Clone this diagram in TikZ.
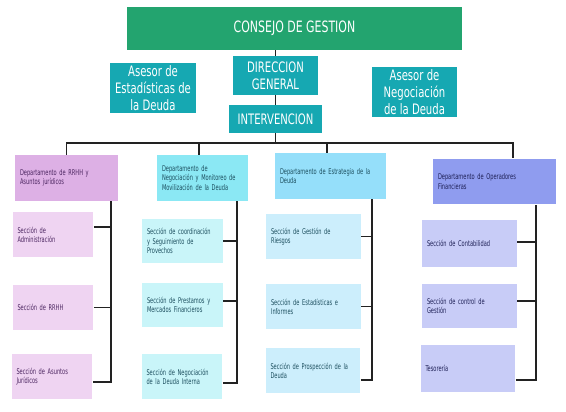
\documentclass[tikz,border=0pt]{standalone}
\usepackage{fontspec}
\setmainfont{DejaVu Sans}[FakeStretch=0.7]
\newfontfamily\estrecha{DejaVu Sans}[FakeStretch=0.64]
\usetikzlibrary{calc,positioning}
\hyphenpenalty=10000
\exhyphenpenalty=10000
\definecolor{verde}{HTML}{23A46F}
\definecolor{turquesa}{HTML}{16A8B2}
\definecolor{lila}{HTML}{DDB0E5}
\definecolor{lilaclaro}{HTML}{EFD4F2}
\definecolor{morado}{HTML}{4B2560}
\definecolor{celeste}{HTML}{8BE8F4}
\definecolor{celesteclaro}{HTML}{C9F5F9}
\definecolor{azulcielo}{HTML}{95DFFA}
\definecolor{azulcieloclaro}{HTML}{CCEEFC}
\definecolor{petroleo}{HTML}{1C4E5E}
\definecolor{lavanda}{HTML}{8F9CEF}
\definecolor{lavandaclaro}{HTML}{C8CCF7}
\definecolor{marino}{HTML}{1D1F55}
\definecolor{gris}{HTML}{222222}
\tikzset{
  titulo/.style={fill=verde, text=white, minimum width=6.7cm, minimum height=0.86cm, inner sep=0pt, font=\fontsize{8.9}{10}\selectfont},
  asesor/.style={fill=turquesa, text=white, align=center, inner sep=0pt, font=\fontsize{8.2}{9.6}\selectfont},
  depto/.style={minimum height=0.92cm, inner xsep=0.1cm, inner ysep=0pt, align=left, font=\estrecha\fontsize{4.5}{5.2}\selectfont},
  seccion/.style={minimum height=0.9cm, inner xsep=0.1cm, inner ysep=0pt, align=left, font=\estrecha\fontsize{4.5}{5.2}\selectfont},
  linea/.style={line width=1.1pt, draw=gris}
}
\begin{document}
\begin{tikzpicture}[x=0.02cm, y=-0.02cm]
  \useasboundingbox (0,0) rectangle (566,412);
  % cabecera
  \node[titulo] (consejo) at (294.5,28.5) {CONSEJO DE GESTION};
  \node[asesor, minimum width=1.72cm, minimum height=1cm] (aest) at (153,88) {Asesor de\\Estadísticas de\\la Deuda};
  \node[asesor, minimum width=1.7cm, minimum height=0.78cm] (dir) at (275.5,75.5) {DIRECCION\\GENERAL};
  \node[asesor, minimum width=1.86cm, minimum height=0.56cm] (inter) at (275.5,119) {INTERVENCION};
  \node[asesor, minimum width=1.7cm, minimum height=1cm] (aneg) at (414.5,92) {Asesor de\\Negociación\\de la Deuda};
  \coordinate (bar) at (275.5,143);

  % departamentos
  \node[depto, fill=lila, text=morado, text width=1.86cm] (d1) at (66.5,178) {Departamento de RRHH y\\Asuntos jurídicos};
  \node[depto, fill=celeste, text=petroleo, text width=1.62cm] (d2) at (202.5,178) {Departamento de\\Negociación y Monitoreo de\\Movilización de la Deuda};
  \node[depto, fill=azulcielo, text=petroleo, text width=2.02cm] (d3) at (330.5,176) {Departamento de Estrategia de la\\Deuda};
  \node[depto, fill=lavanda, text=marino, text width=2.26cm] (d4) at (494.5,181.5) {Departamento de Operadores\\Financieras};

  % secciones
  \node[seccion, fill=lilaclaro, text=morado, text width=1.42cm] (s11) at (53,234.5) {Sección de\\Administración};
  \node[seccion, fill=lilaclaro, text=morado, text width=1.42cm] (s12) at (53,307.5) {Sección de RRHH};
  \node[seccion, fill=lilaclaro, text=morado, text width=1.42cm] (s13) at (52,376.5) {Sección de Asuntos\\Jurídicos};
  \node[seccion, fill=celesteclaro, text=petroleo, text width=1.42cm] (s21) at (182.5,241) {Sección de coordinación\\y Seguimiento de\\Provechos};
  \node[seccion, fill=celesteclaro, text=petroleo, text width=1.42cm] (s22) at (182.5,305) {Sección de Prestamos y\\Mercados Financieros};
  \node[seccion, fill=celesteclaro, text=petroleo, text width=1.42cm] (s23) at (182,376.5) {Sección de Negociación\\de la Deuda Interna};
  \node[seccion, fill=azulcieloclaro, text=petroleo, text width=1.7cm] (s31) at (313.5,236.5) {Sección de Gestión de\\Riesgos};
  \node[seccion, fill=azulcieloclaro, text=petroleo, text width=1.7cm] (s32) at (313.5,306.5) {Sección de Estadísticas e\\Informes};
  \node[seccion, fill=azulcieloclaro, text=petroleo, text width=1.7cm] (s33) at (313,370.5) {Sección de Prospección de la\\Deuda};
  \node[seccion, fill=lavandaclaro, text=marino, text width=1.7cm, minimum height=0.94cm] (s41) at (469.5,243.5) {Sección de Contabilidad};
  \node[seccion, fill=lavandaclaro, text=marino, text width=1.7cm] (s42) at (469.5,306) {Sección de control de\\Gestión};
  \node[seccion, fill=lavandaclaro, text=marino, text width=1.7cm, minimum height=0.94cm] (s43) at (468,368.5) {Tesorería};

  % lineas
  \draw[linea] (dir.north) -- (dir.north |- consejo.south);
  \draw[linea] (dir.south) -- (inter.north);
  \draw[linea] (inter.south) -- (bar);
  \draw[linea] (d1.north) |- (bar) -| ([xshift=0.37cm]d4.north);
  \draw[linea] ([xshift=-0.07cm]d2.north) |- (bar);
  \draw[linea] ([xshift=-0.07cm]d3.north) |- (bar);
  \coordinate (e1) at ([xshift=-0.14cm]d1.south east);
  \coordinate (e2) at ([xshift=-0.22cm]d2.south east);
  \coordinate (e3) at ([xshift=-0.28cm]d3.south east);
  \coordinate (e4) at ([xshift=-0.4cm]d4.south east);
  \foreach \s/\e/\dy in {s11/e1/0.15, s12/e1/0, s13/e1/-0.11,
                         s21/e2/0, s22/e2/0.08, s23/e2/-0.13,
                         s31/e3/0, s32/e3/0, s33/e3/-0.19,
                         s41/e4/0.03, s42/e4/0.1, s43/e4/-0.23}
    \draw[linea] ([yshift=\dy cm]\s.east) -| (\e);
\end{tikzpicture}
\end{document}
